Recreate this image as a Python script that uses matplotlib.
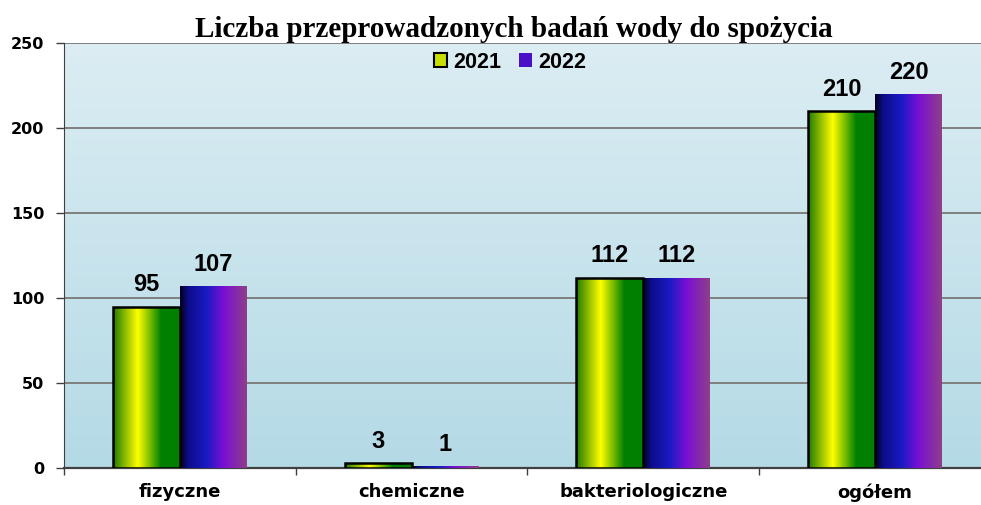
import numpy as np
import matplotlib
matplotlib.use("Agg")
import matplotlib.pyplot as plt
from matplotlib.colors import LinearSegmentedColormap
from matplotlib.patches import Rectangle

# data
categories = ["fizyczne", "chemiczne", "bakteriologiczne", "ogółem"]
years = ["2021", "2022"]
values_2021 = [95, 3, 112, 210]
values_2022 = [107, 1, 112, 220]
yticks = [0, 50, 100, 150, 200, 250]

green_cmap = LinearSegmentedColormap.from_list(
    "g", [(0.0, "#1f7a00"), (0.37, "#ffff00"), (0.72, "#008000"), (1.0, "#007f00")])
purple_cmap = LinearSegmentedColormap.from_list(
    "p", [(0.0, "#000018"), (0.12, "#0c0c8a"), (0.4, "#1a1ac4"), (0.65, "#7a0fd4"), (1.0, "#8f3f8a")])
bg_cmap = LinearSegmentedColormap.from_list("bg", ["#b4dae6", "#dcedf3"])

fig = plt.figure(figsize=(9.81, 5.05), dpi=100)
ax = fig.add_axes([64 / 981, 1 - 468 / 505, 1 - 64 / 981, 425 / 505])

# background gradient
grad = np.linspace(0, 1, 256).reshape(-1, 1)
ax.imshow(grad, aspect="auto", cmap=bg_cmap, origin="lower",
          extent=[0, 1, 0, 1], transform=ax.transAxes, zorder=0)

x = np.arange(len(categories))
w = 0.289
hgrad = np.linspace(0, 1, 256).reshape(1, -1)


def grad_bars(xs, vals, cmap, edge):
    bars = ax.bar(xs, vals, w, color="none", edgecolor=edge,
                  linewidth=1.8 if edge != "none" else 0, zorder=4)
    for b in bars:
        x0, y0 = b.get_x(), b.get_y()
        bw, bh = b.get_width(), b.get_height()
        im = ax.imshow(hgrad, aspect="auto", cmap=cmap,
                       extent=[x0, x0 + bw, y0, y0 + bh], zorder=3)
        clip = Rectangle((x0, y0), bw, bh, transform=ax.transData)
        im.set_clip_path(clip)
    return bars


b1 = grad_bars(x - w / 2, values_2021, green_cmap, "black")
b2 = grad_bars(x + w / 2, values_2022, purple_cmap, "none")

for xs, vals in [(x - w / 2, values_2021), (x + w / 2, values_2022)]:
    for xi, v in zip(xs, vals):
        ax.text(xi, v + 6, str(v), ha="center", va="bottom",
                fontsize=17, fontweight="bold", family="Liberation Sans", zorder=5)

ax.set_xlim(-0.5, 3.457)
ax.set_ylim(0, 250)
ax.set_yticks(yticks)
ax.set_yticklabels([str(t) for t in yticks], fontsize=11.5, fontweight="bold",
                   family="DejaVu Sans")
ax.yaxis.grid(True, color="#7f7f7f", linewidth=1.4, zorder=1)
ax.set_axisbelow(True)

ax.set_xticks(x)
ax.set_xticklabels(categories, fontsize=13, fontweight="bold", family="DejaVu Sans")
ax.tick_params(axis="x", which="major", length=0, pad=11)
ax.set_xticks([-0.5, 0.5, 1.5, 2.5], minor=True)
ax.tick_params(axis="x", which="minor", length=5, color="#404040", width=1)
ax.tick_params(axis="y", length=6, color="#404040", width=1, pad=8)

for s in ["top", "right"]:
    ax.spines[s].set_visible(False)
ax.spines["left"].set_color("#404040")
ax.spines["bottom"].set_color("#404040")
ax.spines["bottom"].set_linewidth(1.6)

fig.text(514 / 981, 1 - 37 / 505, "Liczba przeprowadzonych badań wody do spożycia",
         ha="center", va="baseline", fontsize=21, fontweight="bold",
         family="Liberation Serif")

leg_handles = [Rectangle((0, 0), 1, 1, facecolor="#c8e000", edgecolor="black", linewidth=1.5),
               Rectangle((0, 0), 1, 1, facecolor="#4a10c8", edgecolor="none")]
leg = ax.legend(leg_handles, years, loc="center", bbox_to_anchor=(510 / 981, 1 - 62 / 505),
                bbox_transform=fig.transFigure, ncol=2, frameon=False,
                prop={"family": "Liberation Sans", "weight": "bold", "size": 15.5},
                handlelength=0.6, handleheight=0.6, handletextpad=0.3, columnspacing=0.8,
                borderpad=0)

fig.savefig("out.png", dpi=100)
